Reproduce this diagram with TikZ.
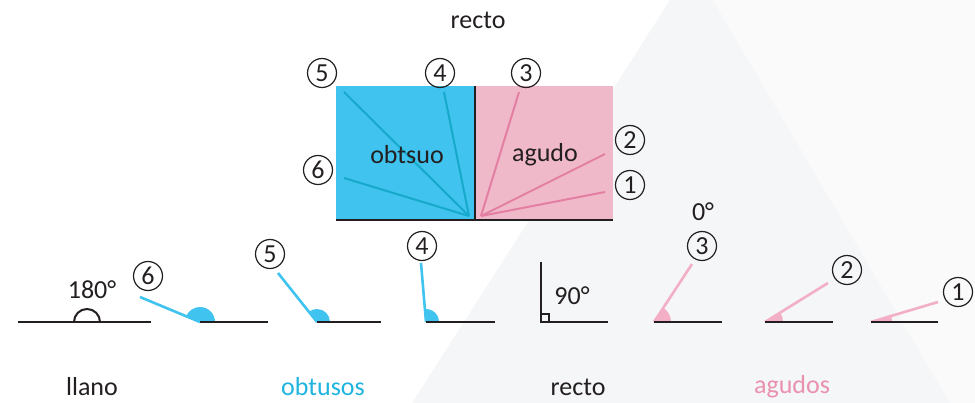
\documentclass[tikz,border=0pt]{standalone}
\usepackage{fontspec}
\setmainfont{Carlito}
\definecolor{ink}{HTML}{231F20}
\definecolor{boxblue}{HTML}{40C3EE}
\definecolor{boxpink}{HTML}{F0B9CA}
\definecolor{bluedark}{HTML}{17A9CB}
\definecolor{pinkdark}{HTML}{E27FA2}
\definecolor{bluelbl}{HTML}{1EB4DE}
\definecolor{pinklbl}{HTML}{E991AE}
\definecolor{pinklite}{HTML}{F2AFC5}
\definecolor{bgA}{HTML}{F5F6F7}
\definecolor{bgB}{HTML}{FAFAFB}
\begin{document}
\begin{tikzpicture}[x=1pt,y=-1pt,
  blk/.style={line width=2.8pt, draw=ink},
  num/.style={circle, draw=ink, line width=1.2pt, minimum size=29pt, inner sep=0pt, text=ink, font=\fontsize{26}{26}\selectfont},
  lbl/.style={text=ink, font=\fontsize{26}{26}\selectfont, inner sep=0pt},
  bline/.style={line width=2.6pt, draw=boxblue},
  pline/.style={line width=2.6pt, draw=pinklite},
  bsect/.style={fill=boxblue},
  psect/.style={fill=pinklite},
  boxbl/.style={line width=2pt, draw=bluedark},
  boxpl/.style={line width=2pt, draw=pinkdark}]
\useasboundingbox (0,0) rectangle (975,403);
% background
\fill[bgA] (670,0) -- (713,0) -- (950,403) -- (412,403) -- cycle;
\fill[bgB] (713,0) -- (975,0) -- (975,403) -- (950,403) -- cycle;
% top box
\fill[boxblue] (336,86) rectangle (475,220);
\fill[boxpink] (475,86) rectangle (613,220);
\coordinate (vb) at (469,216);
\coordinate (vp) at (481,216);
\draw[boxbl] (vb) -- (344,92);
\draw[boxbl] (vb) -- (444,92);
\draw[boxbl] (vb) -- (344,178);
\draw[boxpl] (vp) -- (519,92);
\draw[boxpl] (vp) -- (605,154);
\draw[boxpl] (vp) -- (605,192);
\draw[blk] (475,86) -- (475,221.4);
\draw[blk] (336,220) -- (613,220);
\node[lbl] (recto1) at (478,20) {recto};
\node[lbl] (obt) at (407,155) {obtsuo};
\node[lbl] (agu) at (545,155) {agudo};
\node[num] (t5) at (322,73) {5};
\node[num] (t4) at (440,73) {4};
\node[num] (t3) at (526,73) {3};
\node[num] (t2) at (630,140) {2};
\node[num] (t1) at (630,185) {1};
\node[num] (t6) at (318,170) {6};
% llano
\draw[blk] (18,322) -- (151,322);
\draw[line width=2pt, draw=ink] (74,322) arc[start angle=180, end angle=360, radius=13];
\node[lbl] (l180) at (92,290) {180°};
\node[lbl] (llano) at (92,387) {llano};
% 6
\coordinate (v6) at (200,322);
\fill[bsect] (v6) -- ++(0:15) arc[start angle=0, end angle=-157.4, radius=15] -- cycle;
\draw[bline] (v6) -- (140,297);
\draw[blk] (200,322) -- (268,322);
\node[num] (b6) at (148,276) {6};
% 5
\coordinate (v5) at (317,322);
\fill[bsect] (v5) -- ++(0:13) arc[start angle=0, end angle=-128.5, radius=13] -- cycle;
\draw[bline] (v5) -- (278,273);
\draw[blk] (317,322) -- (381,322);
\node[num] (b5) at (270,254) {5};
% 4
\coordinate (v4) at (426,322);
\fill[bsect] (v4) -- ++(0:13) arc[start angle=0, end angle=-95, radius=13] -- cycle;
\draw[bline] (v4) -- (421,263);
\draw[blk] (426,322) -- (495,322);
\node[num] (b4) at (422,246) {4};
\node[text=bluelbl, font=\fontsize{26}{26}\selectfont, inner sep=0pt] (obtusos) at (323,387) {obtusos};
% recto
\draw[blk] (541,262) -- (541,322) -- (608,322);
\draw[line width=1.6pt, draw=ink] (541,314) -- (549,314) -- (549,322);
\node[lbl] (l90) at (572,296) {90°};
\node[lbl] (recto2) at (578,387) {recto};
% 3
\coordinate (v3) at (654,322);
\fill[psect] (v3) -- ++(0:17) arc[start angle=0, end angle=-56.8, radius=17] -- cycle;
\draw[pline] (v3) -- (692,264);
\draw[blk] (654,322) -- (722,322);
\node[num] (b3) at (702,246) {3};
\node[lbl] (l0) at (703,212) {0°};
% 2
\coordinate (v2) at (765,322);
\fill[psect] (v2) -- ++(0:18) arc[start angle=0, end angle=-31.8, radius=18] -- cycle;
\draw[pline] (v2) -- (828,283);
\draw[blk] (765,322) -- (833,322);
\node[num] (b2) at (847,270) {2};
% 1
\coordinate (v1) at (871,322);
\fill[psect] (v1) -- ++(0:21) arc[start angle=0, end angle=-16.6, radius=21] -- cycle;
\draw[pline] (v1) -- (938,302);
\draw[blk] (871,322) -- (938,322);
\node[num] (b1) at (958,292) {1};
\node[text=pinklbl, font=\fontsize{26}{26}\selectfont, inner sep=0pt] (agudos) at (792,387) {agudos};
\end{tikzpicture}
\end{document}
